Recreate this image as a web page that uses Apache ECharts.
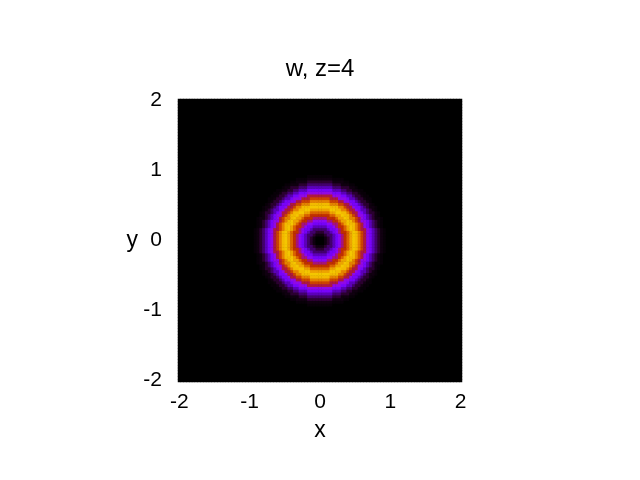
<!DOCTYPE html>
<html>
<head>
<meta charset="utf-8">
<script src="https://cdn.jsdelivr.net/npm/echarts@6/dist/echarts.min.js"></script>
<style>
  html, body { margin: 0; padding: 0; background: #fff; }
  #main { width: 640px; height: 480px; }
</style>
</head>
<body>
<div id="main"></div>
<script>
// grid of sample points, -2..2 step 0.04
var step = 0.04;
var coords = [];
for (var c = -2; c <= 2.0001; c += step) coords.push(+c.toFixed(2));

// radial profile of w (fraction of colour range), r = 0, 0.04, 0.08 ...
var radialProfile = [0, 0, 0.01, 0.03, 0.07, 0.13, 0.21, 0.3, 0.42, 0.57, 0.73, 0.86, 0.92,
  0.9, 0.8, 0.64, 0.46, 0.32, 0.22, 0.13, 0.07, 0.03, 0.01, 0.005, 0, 0];

var tickLabels = ['-2', '-1', '0', '1', '2'];

// heatmap cells: each cell takes the profile value at its nearest radius sample
var cells = [];
for (var i = 0; i < coords.length; i++) {
  for (var j = 0; j < coords.length; j++) {
    var r = Math.sqrt(coords[i] * coords[i] + coords[j] * coords[j]);
    var k = Math.round(r / step);
    var v = k < radialProfile.length ? radialProfile[k] : 0;
    cells.push([i, j, v]);
  }
}

// gnuplot default palette (rgbformulae 7,5,15)
function pal(x) {
  var r = Math.sqrt(x), g = x * x * x, b = Math.max(0, Math.sin(2 * Math.PI * x));
  return 'rgb(' + Math.round(r * 255) + ',' + Math.round(g * 255) + ',' + Math.round(b * 255) + ')';
}
var colors = [];
for (var p = 0; p <= 40; p++) colors.push(pal(p / 40));

var catLabels = coords.map(function (c) { return c.toFixed(2); });
function tickFmt(val, idx) {
  return tickLabels[idx / 25];
}
function showTick(idx) { return idx % 25 === 0; }

var font = 'Liberation Sans, Arial, sans-serif';
var chart = echarts.init(document.getElementById('main'));
chart.setOption({
  backgroundColor: '#ffffff',
  animation: false,
  title: {
    text: 'w, z=4',
    left: 'center',
    top: 52,
    textStyle: { fontFamily: font, fontSize: 24, fontWeight: 'normal', color: '#000' }
  },
  grid: { left: 178, right: 178, top: 99, bottom: 98, show: true, backgroundColor: '#000', borderWidth: 0 },
  xAxis: {
    type: 'category',
    data: catLabels,
    name: 'x',
    nameLocation: 'middle',
    nameGap: 37,
    nameTextStyle: { fontFamily: font, fontSize: 23, color: '#000' },
    axisLine: { show: false },
    axisTick: { show: false },
    splitLine: { show: false },
    axisLabel: {
      interval: function (idx) { return showTick(idx); },
      formatter: tickFmt,
      margin: 10,
      fontFamily: font, fontSize: 21, color: '#000'
    }
  },
  yAxis: {
    type: 'category',
    data: catLabels,
    name: 'y',
    nameLocation: 'middle',
    nameRotate: 0,
    nameGap: 40,
    nameTextStyle: { fontFamily: font, fontSize: 23, color: '#000' },
    axisLine: { show: false },
    axisTick: { show: false },
    splitLine: { show: false },
    axisLabel: {
      interval: function (idx) { return showTick(idx); },
      formatter: tickFmt,
      margin: 16,
      fontFamily: font, fontSize: 21, color: '#000'
    }
  },
  visualMap: {
    show: false,
    type: 'continuous',
    min: 0,
    max: 1,
    dimension: 2,
    inRange: { color: colors }
  },
  series: [{
    type: 'heatmap',
    data: cells,
    progressive: 0,
    emphasis: { disabled: true }
  }]
});
</script>
</body>
</html>
